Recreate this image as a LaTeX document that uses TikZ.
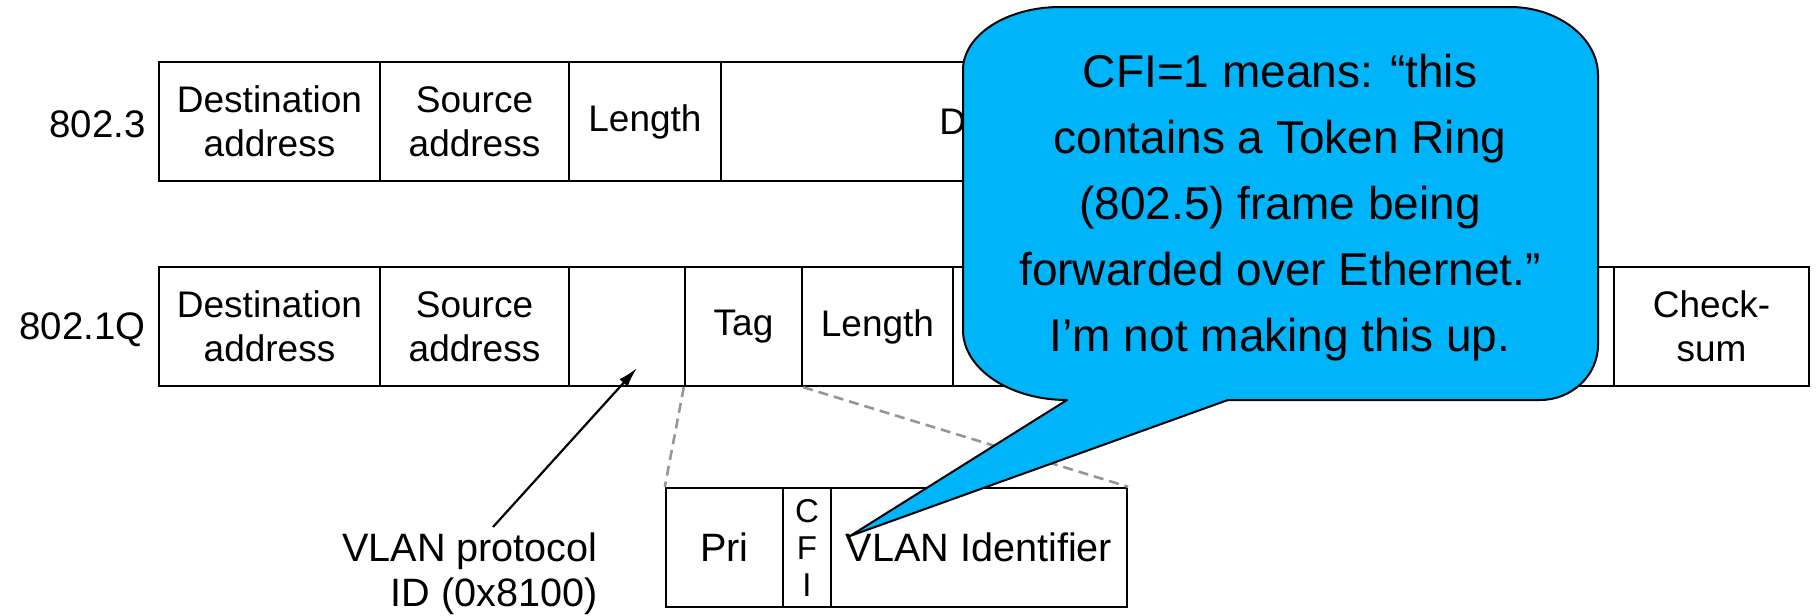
\documentclass[tikz,border=0pt]{standalone}
\usepackage{fontspec}
\setmainfont{Liberation Sans}
\usetikzlibrary{arrows.meta}
\definecolor{callblue}{RGB}{0,180,250}
\definecolor{dashgray}{RGB}{150,150,150}
\tikzset{
  field/.style={draw, line width=1.2pt, inner sep=0pt, minimum height=59.5pt, align=center, font=\fontsize{18.5}{22}\selectfont},
  bigfield/.style={field, font=\fontsize{19.8}{22}\selectfont},
  lbl/.style={inner sep=0pt, font=\fontsize{19.2}{22.5}\selectfont},
  zoomline/.style={draw=dashgray, line width=1.3pt, dash pattern=on 5pt off 3pt},
  ptr/.style={line width=1.1pt, -{Latex[length=10pt,width=5.5pt]}},
  callout/.style={fill=callblue, draw=black, line width=1pt, line join=round},
  calltext/.style={inner sep=0pt, anchor=base, font=\fontsize{23}{33}\selectfont}
}
\begin{document}
\begin{tikzpicture}[x=0.5pt,y=-0.5pt]
\useasboundingbox (0,0) rectangle (1816,616);
% row 1 : 802.3
\node[lbl, anchor=east] (l1) at (146,124) {802.3};
\node[field, minimum width=110.5pt] (r1d) at (269.5,121.5) {Destination\\address};
\node[field, minimum width=94.5pt] (r1s) at (474.5,121.5) {Source\\address};
\node[field, minimum width=76pt] (r1l) at (645,121.5) {Length};
\node[field, minimum width=257.5pt] (r1data) at (978.5,121.5) {Data};
% row 2 : 802.1Q
\node[lbl, anchor=east] (l2) at (146,330) {802.1Q};
\node[field, minimum width=110.5pt] (r2d) at (269.5,326.5) {Destination\\address};
\node[field, minimum width=94.5pt] (r2s) at (474.5,326.5) {Source\\address};
\node[field, minimum width=58pt] (r2v) at (627,326.5) {};
\node[field, minimum width=58.5pt] (r2t) at (743.5,326.5) {Tag};
\node[field, minimum width=75.5pt] (r2l) at (877.5,326.5) {Length};
\node[field, minimum width=330.5pt] (r2data) at (1283.5,326.5) {};
\node[field, minimum width=97.5pt] (r2c) at (1711.5,326.5) {Check-\\sum};
% row 3 : tag detail
\node[bigfield, minimum width=58.5pt] (pri) at (724.5,547.5) {Pri};
\node[field, minimum width=24pt, font=\fontsize{16.5}{18.5}\selectfont] (cfi) at (807,547.5) {C\\F\\I};
\node[bigfield, minimum width=148pt] (vid) at (979,547.5) {VLAN Identifier};
% zoom lines
\draw[zoomline] (r2t.south west) -- (pri.north west);
\draw[zoomline] (r2t.south east) -- (vid.north east);
% VLAN protocol ID label and arrow
\node[lbl, font=\fontsize{19.8}{22.5}\selectfont, align=right, anchor=north east] (vlan) at (598,532) {VLAN protocol\\ID (0x8100)};
\coordinate (arrtail) at (493,527);
\coordinate (arrtip) at (637,368);
\draw[ptr] (arrtail) -- (arrtip);
% callout
\coordinate (tip) at (850,536);
\path[callout] (963,70) .. controls (963,35) and (1007,7) .. (1060,7)
  -- (1510,7) .. controls (1558,7) and (1598,38) .. (1598,75)
  -- (1598,345) .. controls (1598,375) and (1572,400) .. (1540,400)
  -- (1228,400) -- (tip) -- (1067,400)
  .. controls (1010,400) and (963,369) .. (963,330) -- cycle;
\node[calltext] (c1) at (1280,87) {CFI=1 means: “this};
\node[calltext] (c2) at (1280,153) {contains a Token Ring};
\node[calltext] (c3) at (1280,219) {(802.5) frame being};
\node[calltext] (c4) at (1280,285) {forwarded over Ethernet.”};
\node[calltext] (c5) at (1280,351) {I’m not making this up.};
\end{tikzpicture}
\end{document}
